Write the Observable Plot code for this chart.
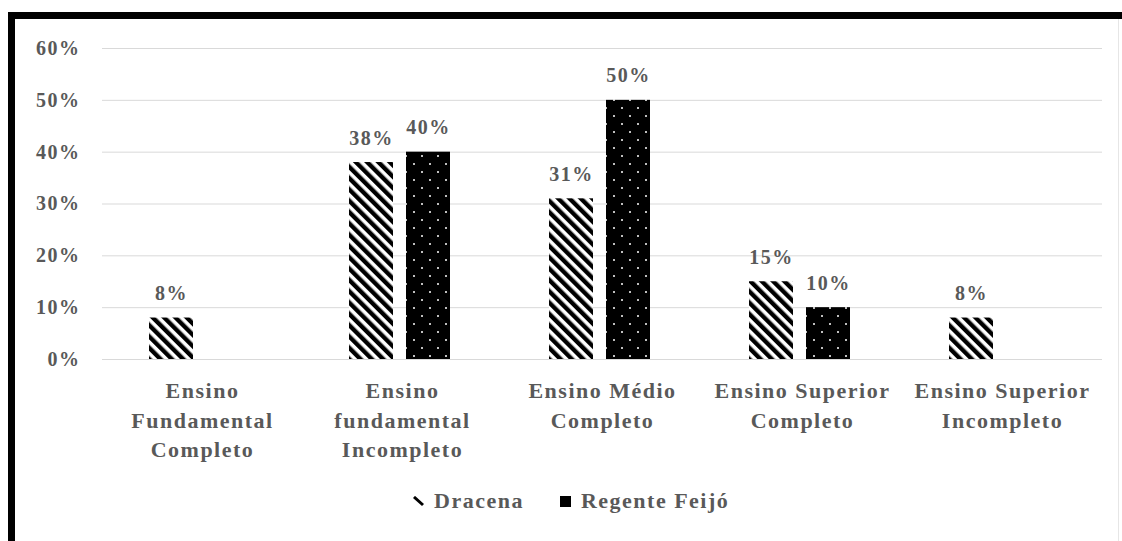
<!DOCTYPE html>
<html>
<head>
<meta charset="utf-8">
<script src="https://cdn.jsdelivr.net/npm/d3@7"></script>
<script src="https://cdn.jsdelivr.net/npm/@observablehq/plot@0.6"></script>
<style>
  html, body { margin: 0; padding: 0; background: #fff; overflow: hidden; }
  #wrap { position: relative; width: 1122px; height: 541px; }
  #chart { position: absolute; left: 0; top: 0; }
  #chart svg { background: transparent !important; }
  .frame { position: absolute; left: 8px; top: 12px; width: 1114px; height: 529px;
           box-sizing: border-box; border-top: 7px solid #000; border-left: 7px solid #000; z-index: 2; }
  .frame-edge { position: absolute; left: 1118px; top: 19px; width: 1px; height: 522px; background: #e6e6e6; z-index: 2; }
  #legend { position: absolute; left: 413px; top: 488px; display: flex; align-items: center;
            font-family: "Liberation Serif", serif; font-weight: bold;
            font-size: 22px; color: #595959; letter-spacing: 1.5px; white-space: nowrap; }
  #legend .item { display: flex; align-items: center; }
  #legend svg { display: block; margin-right: 10px; }
</style>
</head>
<body>
<div id="wrap">
  <div id="chart"></div>
  <div class="frame"></div>
  <div class="frame-edge"></div>
  <div id="legend"></div>
</div>
<script>
// Education level of respondents in the two municipalities
const categories = [
  "Ensino Fundamental Completo",
  "Ensino fundamental Incompleto",
  "Ensino Médio Completo",
  "Ensino Superior Completo",
  "Ensino Superior Incompleto"
];
const categoryLabels = [
  "Ensino\nFundamental\nCompleto",
  "Ensino\nfundamental\nIncompleto",
  "Ensino Médio\nCompleto",
  "Ensino Superior\nCompleto",
  "Ensino Superior\nIncompleto"
];
const series = ["Dracena", "Regente Feijó"];
const dracena = [0.08, 0.38, 0.31, 0.15, 0.08];
const regenteFeijo = [0, 0.40, 0.50, 0.10, 0];
const yTicks = [0, 0.1, 0.2, 0.3, 0.4, 0.5, 0.6];

const seriesFill = {"Dracena": "url(#stripes)", "Regente Feijó": "url(#dots)"};
const labelOf = new Map(categories.map((c, i) => [c, categoryLabels[i]]));

const rows = [];
categories.forEach((c, i) => {
  rows.push({category: c, serie: series[0], value: dracena[i]});
  rows.push({category: c, serie: series[1], value: regenteFeijo[i]});
});
const shown = rows.filter(d => d.value > 0);

const pct = d3.format(".0%");
const grey = "#595959";

const chart = Plot.plot({
  width: 1122,
  height: 470,
  marginLeft: 100,
  marginRight: 19,
  marginTop: 48,
  marginBottom: 111,
  style: {fontFamily: "Liberation Serif, serif", fontWeight: "bold", letterSpacing: "1.5px", color: grey, background: "transparent"},
  fx: {domain: categories, padding: 0, label: null},
  x: {domain: series, paddingInner: 0.23, paddingOuter: 0.84, align: 0.47, axis: null},
  y: {domain: [0, 0.6], label: null},
  marks: [
    Plot.gridY(yTicks, {stroke: "#d9d9d9", strokeOpacity: 1, strokeWidth: 1}),
    Plot.axisY(yTicks, {tickFormat: pct, tickSize: 0, tickPadding: 22, fontSize: 20, fill: grey, label: null}),
    Plot.axisFx({anchor: "bottom", tickSize: 0, tickPadding: 18, fontSize: 22, lineHeight: 1.34,
                 fill: grey, label: null, tickFormat: d => labelOf.get(d)}),
    ...series.map(s => Plot.barY(shown.filter(d => d.serie === s), {
      fx: "category", x: "serie", y: "value", fill: seriesFill[s]
    })),
    Plot.text(shown, {
      fx: "category", x: "serie", y: "value", text: d => pct(d.value),
      lineAnchor: "bottom", dy: -18, fontSize: 20, fill: grey
    })
  ]
});

// Fill patterns for the two series
const ns = "http://www.w3.org/2000/svg";
const defs = document.createElementNS(ns, "defs");
defs.innerHTML = `
  <pattern id="stripes" patternUnits="userSpaceOnUse" width="8" height="8" patternTransform="rotate(-45)">
    <rect width="8" height="8" fill="#fff"></rect>
    <rect x="0" y="0" width="4.4" height="8" fill="#000"></rect>
  </pattern>
  <pattern id="dots" patternUnits="userSpaceOnUse" width="16" height="16">
    <rect width="16" height="16" fill="#000"></rect>
    <circle cx="4" cy="4" r="1" fill="#fff"></circle>
    <circle cx="12" cy="12" r="1" fill="#fff"></circle>
  </pattern>`;
chart.insertBefore(defs, chart.firstChild);
document.getElementById("chart").appendChild(chart);

// Legend
const legend = document.getElementById("legend");
const swatches = {
  "Dracena": `<svg width="11" height="11"><line x1="1" y1="1" x2="10" y2="9" stroke="#000" stroke-width="3"></line></svg>`,
  "Regente Feijó": `<svg width="11" height="11"><rect width="11" height="11" fill="#000"></rect></svg>`
};
series.forEach((s, i) => {
  const item = document.createElement("div");
  item.className = "item";
  if (i > 0) item.style.marginLeft = "36px";
  item.innerHTML = swatches[s] + `<span>${s}</span>`;
  legend.appendChild(item);
});
</script>
</body>
</html>
